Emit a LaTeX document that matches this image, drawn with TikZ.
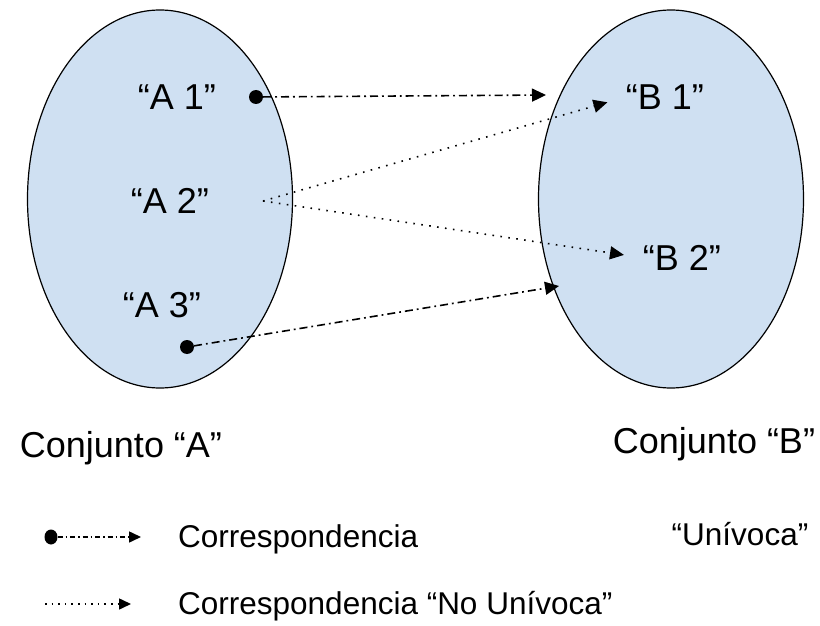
\documentclass[tikz,border=0pt]{standalone}
\usepackage{fontspec}
\setmainfont{Liberation Sans}
\usetikzlibrary{arrows.meta,shapes.geometric}

\definecolor{setblue}{RGB}{207,224,242}

\tikzset{
    conj/.style={ellipse,draw=black,fill=setblue,line width=1.2pt,
        minimum width=265pt,minimum height=378pt},
    elem/.style={font=\fontsize{36}{40}\selectfont,inner sep=2pt,anchor=base},
    leyenda/.style={font=\fontsize{31.5}{36}\selectfont,inner sep=0pt},
    punto/.style={circle,fill=black,inner sep=0pt,minimum size=14pt},
    puntito/.style={ellipse,fill=black,inner sep=0pt,minimum width=13pt,minimum height=15pt},
    univ/.style={line width=1.6pt,dash pattern=on 8pt off 4pt on 1.8pt off 4pt,
        -{Triangle[length=14pt,width=13pt]}},
    nouniv/.style={line width=1.6pt,dash pattern=on 1.6pt off 6.4pt,
        -{Triangle[length=14pt,width=13pt]}},
    chica/.style={-{Triangle[length=12pt,width=11pt]}}
}

\begin{document}
\begin{tikzpicture}[x=1pt,y=-1pt]
    \useasboundingbox (0,0) rectangle (820,626);

    \node[conj] (setA) at (160,199) {};
    \node[conj] (setB) at (671,199) {};

    \node[elem] (a1) at (177,110) {“A 1”};
    \node[elem] (a2) at (170,213) {“A 2”};
    \node[elem] (a3) at (162,317) {“A 3”};
    \node[elem] (b1) at (665,110) {“B 1”};
    \node[elem] (b2) at (682,270) {“B 2”};

    \node[punto] (d1) at (256,97) {};
    \node[punto] (d3) at (187,347) {};
    \coordinate (a2o) at (263,201);
    \coordinate (e1) at (546,95);
    \coordinate (e3) at (559,286);

    \draw[univ] (d1) -- (e1);
    \draw[univ] (d3) -- (e3);
    \draw[nouniv,shorten >=17pt] (a2o) -- (b1.west);
    \draw[nouniv,shorten >=17pt] (a2o) -- (b2.west);

    \node[elem] (conjA) at (121,457) {Conjunto “A”};
    \node[elem] (conjB) at (714,453) {Conjunto “B”};

    \node[puntito] (ld) at (51,537) {};
    \coordinate (le1) at (141,537);
    \draw[univ,chica,dash pattern=on 5pt off 3pt on 1.5pt off 3pt] (ld) -- (le1);
    \node[leyenda,anchor=base west] (l1) at (178,547) {Correspondencia};
    \node[leyenda,anchor=base] (l1b) at (740,545) {“Unívoca”};

    \coordinate (ls2) at (45,604);
    \coordinate (le2) at (131,604);
    \draw[nouniv,chica,dash pattern=on 1.6pt off 5pt] (ls2) -- (le2);
    \node[leyenda,anchor=base west] (l2) at (178,614) {Correspondencia “No Unívoca”};
\end{tikzpicture}
\end{document}
